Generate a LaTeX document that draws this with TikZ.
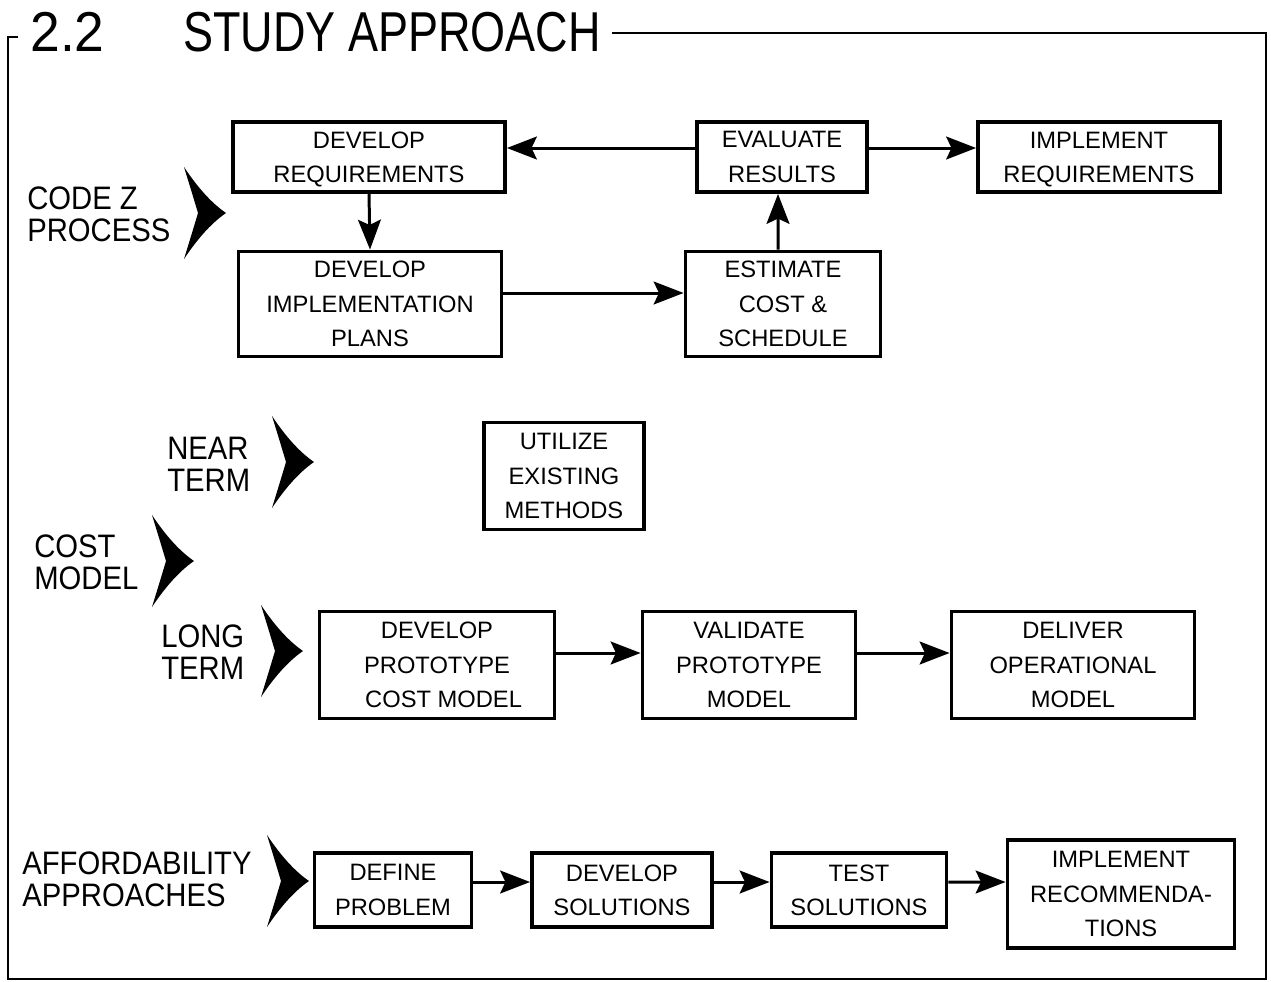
\documentclass[tikz,border=0pt]{standalone}
\usepackage{fontspec}
\setmainfont{Liberation Sans}
\usetikzlibrary{arrows.meta}

% two-line side label, slightly condensed
\newcommand\sidelbl[2]{\scalebox{0.9}[1]{\fontsize{18.5}{18}\selectfont\begin{tabular}{@{}l@{}}#1\\#2\end{tabular}}}
\newcommand\headtxt[2][0.8]{\scalebox{#1}[1]{\fontsize{32}{32}\selectfont #2}}

\begin{document}
\begin{tikzpicture}[x=0.02cm,y=-0.02cm,
  box/.style={draw, line width=2.2pt, inner sep=0pt, align=center,
    font=\fontsize{13.5}{19.5}\selectfont},
  sz/.style 2 args={minimum width=#1*0.02cm, minimum height=#2*0.02cm},
  arr/.style={line width=1.7pt, -{Stealth[length=17pt,width=13pt,inset=3pt]}},
  lbl/.style={anchor=west, inner sep=0pt},
  frame/.style={line width=1.6pt},
  chev/.pic={\fill (0,-46) .. controls (12,-28) and (26,-11) .. (42,0)
      .. controls (26,11) and (12,28) .. (0,46)
      .. controls (8,20) .. (14,0) .. controls (8,-20) .. (0,-46) -- cycle;}
]
\useasboundingbox (0,0) rectangle (1271,981);

% heading and frame
\node[anchor=base west, inner sep=0pt] (num) at (30,51) {\headtxt[0.95]{2.2}};
\node[anchor=base west, inner sep=0pt] (title) at (183,51) {\headtxt{STUDY APPROACH}};
\draw[frame] (18,37) -- (8,37) -- (8,979) -- (1266,979) -- (1266,33) -- (612,33);

% side labels
\node[lbl] (codez) at (27,219) {\sidelbl{CODE Z}{PROCESS}};
\node[lbl] (near) at (167,469) {\sidelbl{NEAR}{TERM}};
\node[lbl] (cost) at (34,567) {\sidelbl{COST}{MODEL}};
\node[lbl] (long) at (161,657) {\sidelbl{LONG}{TERM}};
\node[lbl] (afford) at (22,884) {\sidelbl{AFFORDABILITY}{APPROACHES}};

% chevrons
\pic at (184,213) {chev};
\pic at (272,462) {chev};
\pic at (152,561) {chev};
\pic at (261,651) {chev};
\pic at (267,881) {chev};

% Code Z process
\node[box, sz={272}{70}] (devreq) at (369,157) {DEVELOP\\\smash{REQUIREMENTS}};
\node[box, sz={170}{70}] (evalres) at (782,157) {EVALUATE\\RESULTS};
\node[box, sz={242}{70}] (implreq) at (1099,157) {IMPLEMENT\\\smash{REQUIREMENTS}};
\node[box, sz={263}{105}] (devimpl) at (370,304) {DEVELOP\\IMPLEMENTATION\\PLANS};
\node[box, sz={195}{105}] (estcost) at (783,304) {ESTIMATE\\COST \&\\SCHEDULE};

\draw[arr] ([yshift=0.18cm]evalres.west) -- ([yshift=0.18cm]devreq.east);
\draw[arr] ([yshift=0.18cm]evalres.east) -- ([yshift=0.18cm]implreq.west);
\draw[arr] (devreq.south) -- (devimpl.north);
\draw[arr] ([yshift=0.22cm]devimpl.east) -- ([yshift=0.22cm]estcost.west);
\draw[arr] ([xshift=-0.1cm]estcost.north) -- ([xshift=-0.08cm]evalres.south);

% cost model
\node[box, sz={160}{107}] (utilize) at (564,476) {UTILIZE\\EXISTING\\METHODS};
\node[box, sz={235}{107}] (devproto) at (437,665) {DEVELOP\\PROTOTYPE\\\ \ COST MODEL};
\node[box, sz={213}{107}] (validate) at (749,665) {VALIDATE\\PROTOTYPE\\MODEL};
\node[box, sz={243}{107}] (deliver) at (1073,665) {DELIVER\\OPERATIONAL\\MODEL};

\draw[arr] ([yshift=0.24cm]devproto.east) -- ([yshift=0.24cm]validate.west);
\draw[arr] ([yshift=0.24cm]validate.east) -- ([yshift=0.24cm]deliver.west);

% affordability approaches
\node[box, sz={157}{74}] (define) at (393,890) {DEFINE\\PROBLEM};
\node[box, sz={180}{74}] (devsol) at (622,890) {DEVELOP\\SOLUTIONS};
\node[box, sz={175}{74}] (testsol) at (859,890) {TEST\\SOLUTIONS};
\node[box, sz={227}{108}] (implrec) at (1121,894) {IMPLEMENT\\RECOMMENDA-\\TIONS};

\draw[arr] ([yshift=0.16cm]define.east) -- ([yshift=0.16cm]devsol.west);
\draw[arr] ([yshift=0.16cm]devsol.east) -- ([yshift=0.16cm]testsol.west);
\draw[arr] ([yshift=0.16cm]testsol.east) -- ([yshift=0.24cm]implrec.west);

\end{tikzpicture}
\end{document}
